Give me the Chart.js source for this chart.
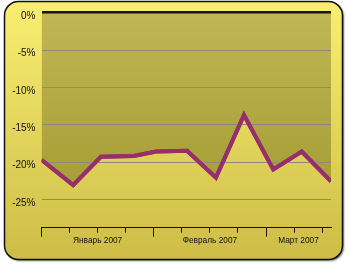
<!DOCTYPE html>
<html>
<head>
<meta charset="utf-8">
<script src="https://cdn.jsdelivr.net/npm/chart.js@4/dist/chart.umd.min.js"></script>
<style>
  html, body { margin: 0; padding: 0; background: #ffffff; }
  #wrap { width: 347px; height: 264px; }
</style>
</head>
<body>
<div id="wrap"><canvas id="chart" width="347" height="264"></canvas></div>
<script>
// days counted from 4 Jan 2007
const dayOffsets = [0, 7.9, 14.8, 23.0, 28.6, 36.3, 43.5, 50.5, 57.8, 64.9, 72.2];
const changePct = [-19.7, -23.1, -19.3, -19.2, -18.6, -18.5, -22.1, -13.7, -21.0, -18.6, -22.6];

const yTicks = [0, -5, -10, -15, -20, -25];
const weekTicks = [0, 7, 14, 21, 28, 35, 42, 49, 56, 63, 70];
const monthStarts = [0, 28, 56];
const monthCenters = [14, 42, 64.1];
const monthLabels = ["Январь 2007", "Февраль 2007", "Март 2007"];

const xMax = 72.2;
const yMin = -28.8;

// rounded yellow panel behind everything
const panelBg = {
    id: 'panelBg',
    beforeDraw(chart) {
        const ctx = chart.ctx;
        const x = 4.5, y = 1.5, w = 338, h = 258, r = 14;
        ctx.save();
        ctx.beginPath();
        ctx.roundRect(x, y, w, h, r);
        ctx.shadowColor = 'rgba(0,0,0,0.55)';
        ctx.shadowOffsetX = 1.5;
        ctx.shadowOffsetY = 1.5;
        ctx.shadowBlur = 2;
        const g = ctx.createLinearGradient(0, y, 0, y + h);
        g.addColorStop(0, '#f9ee72');
        g.addColorStop(1, '#cdbd47');
        ctx.fillStyle = g;
        ctx.fill();
        ctx.shadowColor = 'transparent';
        ctx.lineWidth = 1.5;
        ctx.strokeStyle = '#111';
        ctx.stroke();
        ctx.restore();
    },
    // keep the line above the grid lines
    afterDraw(chart) {
        const meta = chart.getDatasetMeta(0);
        const a = chart.chartArea;
        const ctx = chart.ctx;
        ctx.save();
        ctx.beginPath();
        ctx.rect(a.left, a.top - 3, a.right - a.left, a.bottom - a.top + 6);
        ctx.clip();
        meta.dataset.draw(ctx, a);
        ctx.restore();
    }
};

const font = { family: "'Liberation Sans', Arial, sans-serif" };

new Chart(document.getElementById('chart'), {
    type: 'line',
    data: {
        datasets: [{
            data: dayOffsets.map((d, i) => ({ x: d, y: changePct[i] })),
            borderColor: '#972f6c',
            borderWidth: 4,
            borderJoinStyle: 'miter',
            tension: 0,
            pointRadius: 0,
            fill: 'end',
            backgroundColor(c) {
                const a = c.chart.chartArea;
                if (!a) return '#b5ab48';
                const g = c.chart.ctx.createLinearGradient(0, a.top, 0, a.bottom);
                g.addColorStop(0, '#c0b654');
                g.addColorStop(1, '#a0982f');
                return g;
            }
        }]
    },
    options: {
        responsive: false,
        animation: false,
        layout: { padding: { left: 0, right: 16, top: 12.7, bottom: 16.3 } },
        plugins: { legend: { display: false }, tooltip: { enabled: false } },
        scales: {
            y: {
                min: yMin,
                max: 0,
                afterBuildTicks(s) { s.ticks = yTicks.map(v => ({ value: v })); },
                afterFit(s) { s.width = 41.5; },
                border: { display: false },
                grid: {
                    z: 1,
                    drawTicks: false,
                    color: c => c.tick && c.tick.value === 0 ? '#151510' : '#8c8a7c',
                    lineWidth: c => c.tick && c.tick.value === 0 ? 2.5 : 1
                },
                ticks: {
                    padding: 6,
                    labelOffset: 3.5,
                    color: '#111',
                    font: { ...font, size: 10 },
                    callback: v => v + '%'
                }
            },
            x: {
                type: 'linear',
                position: 'bottom',
                weight: 0,
                min: 0,
                max: xMax,
                afterBuildTicks(s) { s.ticks = weekTicks.map(v => ({ value: v })); },
                afterFit(s) { s.height = 0; },
                border: { display: true, color: '#111', width: 1 },
                grid: { drawOnChartArea: false, tickLength: 5, tickColor: '#111', tickWidth: 1 },
                ticks: { callback: () => '' }
            },
            xMonth: {
                type: 'linear',
                position: 'bottom',
                weight: 0,
                min: 0,
                max: xMax,
                afterBuildTicks(s) { s.ticks = monthStarts.map(v => ({ value: v })); },
                afterFit(s) { s.height = 0; },
                border: { display: false },
                grid: { drawOnChartArea: false, tickLength: 9, tickColor: '#111', tickWidth: 1 },
                ticks: { callback: () => '' }
            },
            xLabel: {
                type: 'linear',
                position: 'bottom',
                weight: 1,
                min: 0,
                max: xMax,
                afterBuildTicks(s) { s.ticks = monthCenters.map(v => ({ value: v })); },
                afterFit(s) { s.height = 20; },
                border: { display: false },
                grid: { display: false },
                ticks: {
                    padding: 0.5,
                    maxRotation: 0,
                    autoSkip: false,
                    color: '#111',
                    font: { ...font, size: 8.3 },
                    callback: (v, i) => monthLabels[i]
                }
            }
        }
    },
    plugins: [panelBg]
});
</script>
</body>
</html>
